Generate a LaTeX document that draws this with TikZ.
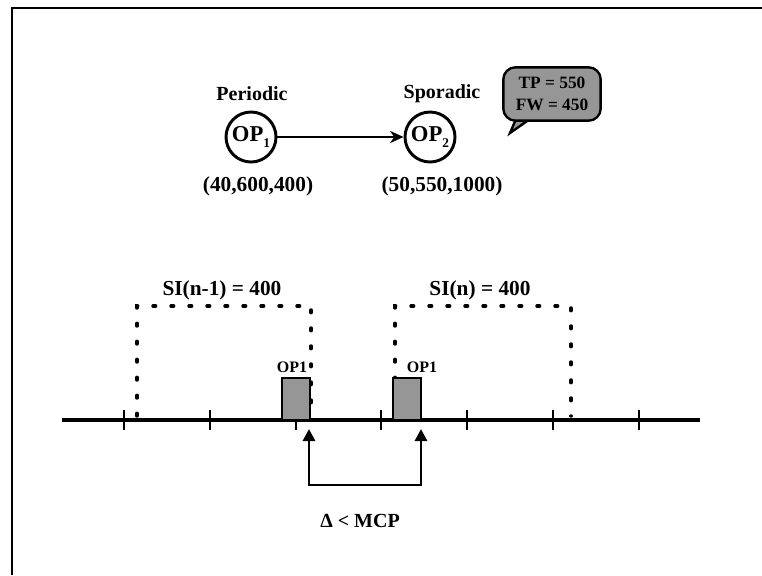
\documentclass[tikz,border=0pt]{standalone}
\usepackage{fontspec}
\setmainfont{Liberation Serif}
\usetikzlibrary{arrows.meta}
\definecolor{shadegray}{RGB}{150,150,150}
\newcommand{\drawslot}{\draw[line width=2.6pt, line cap=round, dash pattern=on 2pt off 11.5pt]}

\begin{document}
\begin{tikzpicture}[x=0.75pt,y=-0.75pt,
    every node/.style={font=\bfseries\fontsize{15}{17}\selectfont},
    opnode/.style={circle,draw,line width=2.2pt,minimum size=37.5pt,inner sep=0pt,
        font=\bfseries\fontsize{17}{19}\selectfont},
    opbox/.style={draw,fill=shadegray,line width=1.6pt}]
    \useasboundingbox (0,0) rectangle (762,575);
    \def\axisy{420}

    % Draw frame
    \draw[line width=2pt] (12,575) -- (12,8) -- (762,8);

    % Draw operators
    \node[opnode] (op1) at (251,137) {OP\raisebox{-4pt}{\fontsize{10}{10}\selectfont 1}};
    \node[opnode] (op2) at (430,137) {OP\raisebox{-4pt}{\fontsize{10}{10}\selectfont 2}};
    \node (per) at (252,94) {Periodic};
    \node (spo) at (442,94) {Sporadic};
    \node[font=\bfseries\fontsize{16}{18}\selectfont] (par1) at (258,186) {(40,600,400)};
    \node[font=\bfseries\fontsize{16}{18}\selectfont] (par2) at (442,186) {(50,550,1000)};
    \draw[line width=2pt, -{Stealth[length=10pt,width=9pt,inset=3pt]}] (op1) -- (op2);

    % Draw callout
    \fill[shadegray] (516,119) -- (510,133) -- (530,119) -- cycle;
    \draw[line width=1.8pt] (516,119) -- (510,133) -- (530,119);
    \node[draw,fill=shadegray,rounded corners=9pt,line width=1.8pt,
        minimum width=73pt,minimum height=40pt,align=center,inner sep=2pt,
        font=\bfseries\fontsize{13}{16}\selectfont] (note) at (552,94) {TP = 550\\FW = 450};

    % Draw time axis
    \coordinate (ax0) at (62,\axisy);
    \coordinate (ax1) at (700,\axisy);
    \draw[line width=3pt] (ax0) -- (ax1);
    \foreach \x in {124,210,296,381,467,553,639} {
        \draw[line width=1.8pt] (\x,\axisy-10) -- (\x,\axisy+10);
    }

    % Draw intervals
    \drawslot (137,416) -- (137,306) -- (311,306) -- (311,416);
    \drawslot (395,416) -- (395,306) -- (571,306) -- (571,416);
    \node[font=\bfseries\fontsize{16}{18}\selectfont] (si1) at (222,290) {SI(n-1) = 400};
    \node[font=\bfseries\fontsize{16}{18}\selectfont] (si2) at (480,290) {SI(n) = 400};

    % Draw executions
    \draw[opbox] (282,\axisy) rectangle (310,378);
    \draw[opbox] (393,\axisy) rectangle (421,378);
    \node[font=\bfseries\fontsize{12}{14}\selectfont] (ex1) at (292,367) {OP1};
    \node[font=\bfseries\fontsize{12}{14}\selectfont] (ex2) at (422,367) {OP1};

    % Draw distance
    \coordinate (tipL) at (309,429);
    \coordinate (tipR) at (421,429);
    \coordinate (botL) at (309,485);
    \coordinate (botR) at (421,485);
    \draw[line width=2.2pt, {Triangle[length=9pt,width=9pt]}-{Triangle[length=9pt,width=9pt]}]
        (tipL) -- (botL) -- (botR) -- (tipR);
    \node (dl) at (360,521) {Δ < MCP};
\end{tikzpicture}
\end{document}
